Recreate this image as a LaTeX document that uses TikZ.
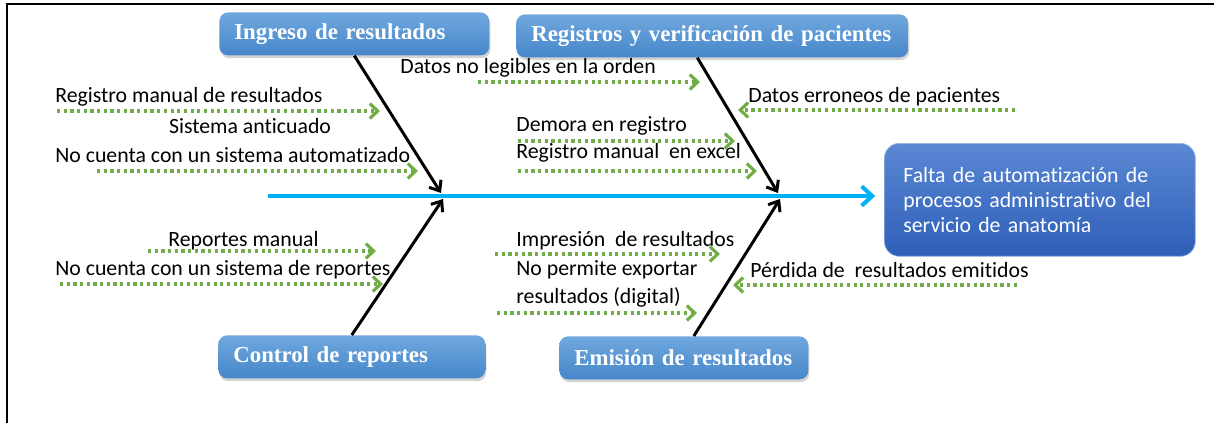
\documentclass[tikz,border=0pt]{standalone}
\usepackage{fontspec}
\setmainfont{Carlito}[Ligatures=NoCommon]
\newfontfamily\catfont{Liberation Serif}
\usepackage{tikz}
\usetikzlibrary{arrows.meta,shadows,positioning}

\definecolor{catTop}{RGB}{112,168,222}
\definecolor{catBot}{RGB}{70,134,202}
\definecolor{effTop}{RGB}{90,136,212}
\definecolor{effBot}{RGB}{46,94,184}
\definecolor{spine}{RGB}{0,176,240}
\definecolor{leaf}{RGB}{112,173,71}

\begin{document}
\begin{tikzpicture}[x=0.02cm,y=-0.02cm,
    category/.style={anchor=north west, rounded corners=5pt, top color=catTop, bottom color=catBot,
        drop shadow={opacity=0.35,shadow xshift=0.6pt,shadow yshift=-1.6pt},
        text=white, font=\catfont\bfseries\fontsize{13}{15}\selectfont,
        inner xsep=0.3cm, minimum height=0.86cm, text width=#1, align=left},
    effect/.style={anchor=north west, rounded corners=8.5pt, top color=effTop, bottom color=effBot,
        draw=effTop!60!white, line width=0.4pt, text=white, font=\fontsize{12.4}{14.4}\selectfont,
        inner xsep=0.38cm, minimum height=2.26cm, text width=5.46cm, align=left},
    cause/.style={anchor=west, inner sep=0pt, font=\fontsize{12.4}{14}\selectfont},
    bone/.style={draw=black, line width=1.7pt, -{Straight Barb[length=5pt,width=8pt]}},
    dots/.style={draw=leaf, line width=1.8pt, dash pattern=on 1.8pt off 2pt,
        -{Straight Barb[length=4.5pt,width=8.5pt]}}]

  \useasboundingbox (0,0) rectangle (1214,423);
  \draw[line width=1.7pt] (7,423) |- (1214,4);

  % categories and effect
  \node[category=4.80cm] (ingreso) at (219,12) {Ingreso de resultados};
  \node[category=7.24cm] (registros) at (516,14) {Registros y verificación de pacientes};
  \node[category=4.74cm] (control) at (218,335) {Control de reportes};
  \node[category=4.38cm] (emision) at (559,336) {Emisión de resultados};
  \node[effect] (efecto) at (884,143) {Falta de automatización de\\procesos administrativo del\\servicio de anatomía};

  % spine
  \coordinate (cola) at (268,196);
  \draw[spine, line width=2.3pt, -{Straight Barb[length=6pt,width=11pt]}, shorten >=5pt] (cola) -- (efecto.west |- cola);

  % bones
  \coordinate (j1) at (441,193);
  \coordinate (j2) at (778,193);
  \coordinate (j3) at (443,199);
  \coordinate (j4) at (780,199);
  \draw[bone] (ingreso.south) -- (j1);
  \draw[bone] ([xshift=-0.3cm]registros.south) -- (j2);
  \draw[bone] (control.north) -- (j3);
  \draw[bone] ([xshift=0.2cm]emision.north) -- (j4);

  % causes
  \node[cause] (c1) at (55,97) {Registro manual de resultados};
  \node[cause, anchor=center] (c2) at (250,126) {Sistema anticuado};
  \node[cause] (c3) at (55,155) {No cuenta con un sistema automatizado};
  \node[cause] (c4) at (400,68) {Datos no legibles en la orden};
  \node[cause] (c5) at (748,97) {Datos erroneos de pacientes};
  \node[cause] (c6) at (516,126) {Demora en registro};
  \node[cause] (c7) at (516,153) {Registro manual\ \ en excel};
  \node[cause] (c8) at (168,241) {Reportes manual};
  \node[cause] (c9) at (55,270) {No cuenta con un sistema de reportes};
  \node[cause] (c10) at (516,241) {Impresión\ \ de resultados};
  \node[cause, align=left, font=\fontsize{12.4}{16}\selectfont] (c11) at (516,284) {No permite exportar\\resultados (digital)};
  \node[cause] (c12) at (750,270) {Pérdida de\ \ resultados emitidos};

  % cause arrows
  \foreach \n/\xa/\xb/\y in {a1/57/380/111, a3/97/418/171, a4/478/700/82, a5/1015/738/110,
      a6/518/735/141, a7/518/757/171, a8/148/376/251, a9/60/383/284,
      a10/495/720/254, a12/1017/733/285, a11/497/697/313}{
    \coordinate (\n-s) at (\xa,\y);
    \coordinate (\n-e) at (\xb,\y);
    \draw[dots] (\n-s) -- (\n-e);
  }
\end{tikzpicture}
\end{document}
